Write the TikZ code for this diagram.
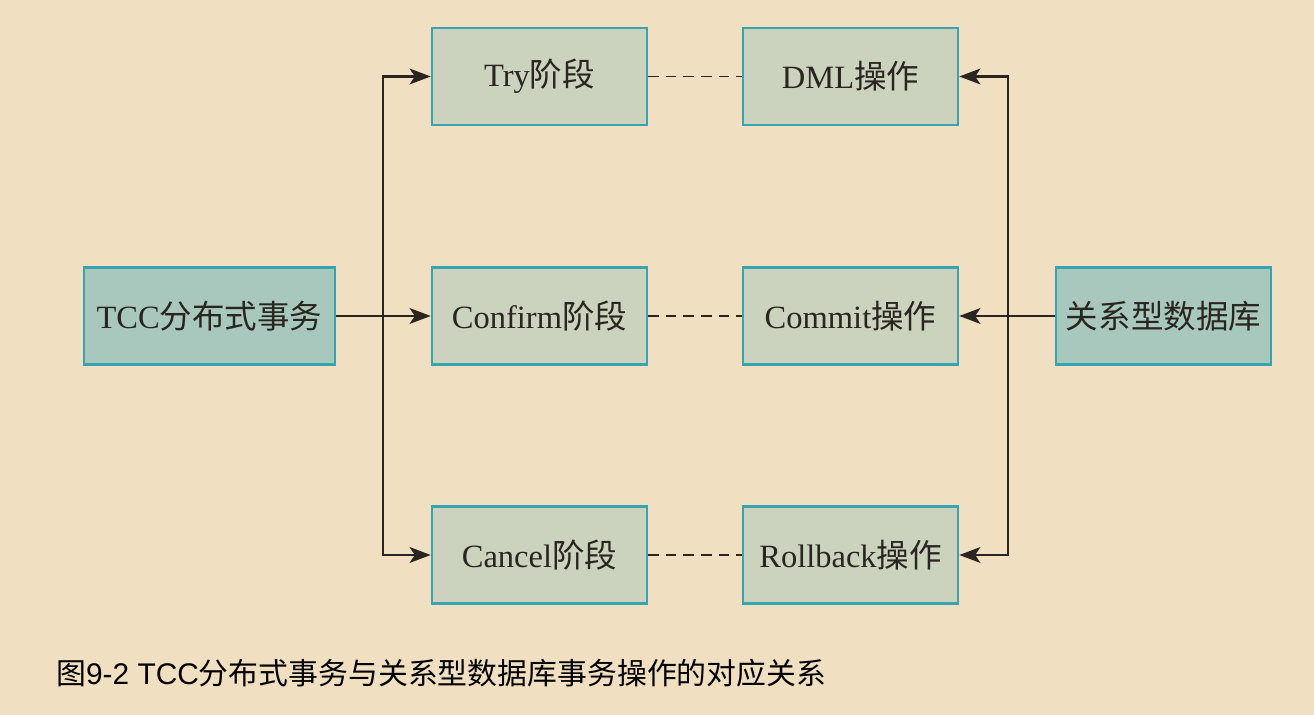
\documentclass[tikz,border=0pt]{standalone}
\usepackage{fontspec}
\setmainfont{Liberation Serif}
\setsansfont{Liberation Sans}
\newfontfamily\cjk{Noto Sans CJK SC}
\usetikzlibrary{arrows.meta}
\definecolor{bgbeige}{HTML}{F0DFC0}
\definecolor{boxteal}{HTML}{A8C8BE}
\definecolor{boxgray}{HTML}{CBD3BE}
\definecolor{edgeteal}{HTML}{3AA3B0}
\definecolor{inkdark}{HTML}{2A2520}
\tikzset{
  ->/.style={draw=inkdark,line width=1.3pt,-{Stealth[length=12pt,width=9pt,inset=3pt]}},
  link/.style={draw=inkdark,line width=1.3pt,line cap=rect},
  dots/.style={draw=inkdark,line width=1.1pt,dash pattern=on 6pt off 4pt},
  phase/.style={draw=edgeteal,line width=1.5pt,fill=boxgray,minimum width=4.3cm,minimum height=1.94cm,inner sep=0pt},
  side/.style={phase,fill=boxteal}
}
\tikzstyle{every node}=[text=inkdark,font=\fontsize{18.5}{22}\selectfont]

\begin{document}
\begin{tikzpicture}
    \fill[bgbeige] (0,0) rectangle (26.28,14.3);
    \useasboundingbox (0,0) rectangle (26.28,14.3);
    \node[side,minimum width=5.02cm] (tcc) at (4.19,7.98) {TCC{\cjk 分布式事务}};
    \node[phase] (try)      at (10.79,12.77) {Try{\cjk 阶段}};
    \node[phase] (confirm)  at (10.79,7.98)  {Confirm{\cjk 阶段}};
    \node[phase] (cancel)   at (10.79,3.20)  {Cancel{\cjk 阶段}};
    \node[phase] (dml)      at (17.01,12.77) {DML{\cjk 操作}};
    \node[phase] (commit)   at (17.01,7.98)  {Commit{\cjk 操作}};
    \node[phase] (rollback) at (17.01,3.20)  {Rollback{\cjk 操作}};
    \node[side]  (db)       at (23.27,7.98)  {\cjk 关系型数据库};
    \coordinate (jl) at (7.66,7.98);
    \coordinate (jr) at (20.16,7.98);
    % left fan-out
    \draw [->] (tcc) -- (confirm);
    \draw [link] (try -| jl) -- (cancel -| jl);
    \draw [->] (try -| jl) -- (try);
    \draw [->] (cancel -| jl) -- (cancel);
    % right fan-out
    \draw [->] (db) -- (commit);
    \draw [link] (dml -| jr) -- (rollback -| jr);
    \draw [->] (dml -| jr) -- (dml);
    \draw [->] (rollback -| jr) -- (rollback);
    % pairs
    \draw [dots] (try) -- (dml);
    \draw [dots] (confirm) -- (commit);
    \draw [dots] (cancel) -- (rollback);
    \node[anchor=west,font=\sffamily\fontsize{17}{20}\selectfont,text=black] (caption) at (1.0,0.84)
      {{\cjk 图}9-2 TCC{\cjk 分布式事务与关系型数据库事务操作的对应关系}};
\end{tikzpicture}
\end{document}
